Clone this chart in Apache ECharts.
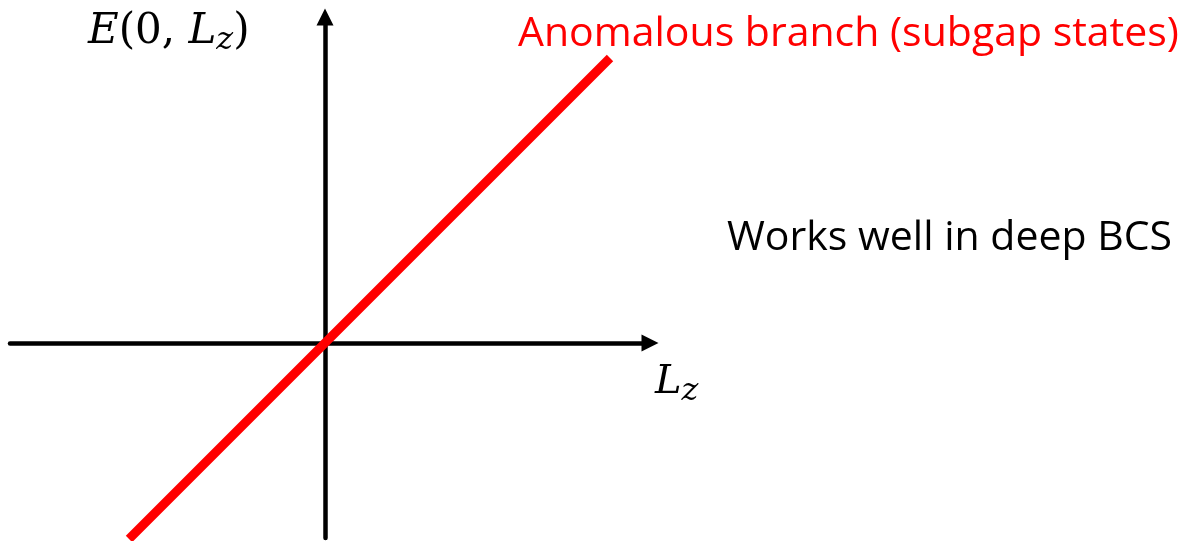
<!DOCTYPE html>
<html>
<head>
<meta charset="utf-8">
<script src="https://cdn.jsdelivr.net/npm/echarts@6/dist/echarts.min.js"></script>
<style>
  html, body { margin: 0; padding: 0; background: #fff; }
  #chart { width: 1191px; height: 541px; }
</style>
</head>
<body>
<div id="chart"></div>
<script>
// axes span (in the same units as the branch line)
var xRange = [-315, 325];
var yRange = [-195, 326];

// anomalous branch: straight line through the origin
var branchX = [-196, 285];
var branchY = [-196, 285];

var branchLabel = 'Anomalous branch (subgap states)';
var noteLabel = 'Works well in deep BCS';

var red = '#ff0000';
var mathFont = '"DejaVu Serif", "Liberation Serif", serif';
var textFont = '"Open Sans", "Noto Sans", sans-serif';

var branchData = [];
for (var i = 0; i < branchX.length; i++) {
    branchData.push([branchX[i], branchY[i]]);
}

var axisLine = {
    show: true,
    onZero: true,
    symbol: ['none', 'triangle'],
    symbolSize: [17, 17],
    lineStyle: { color: '#000', width: 4.5 }
};

var option = {
    animation: false,
    grid: {
        left: 10,
        top: 17,
        width: 640,
        height: 521
    },
    xAxis: {
        type: 'value',
        min: xRange[0],
        max: xRange[1],
        axisLine: axisLine,
        axisTick: { show: false },
        axisLabel: { show: false },
        splitLine: { show: false }
    },
    yAxis: {
        type: 'value',
        min: yRange[0],
        max: yRange[1],
        axisLine: axisLine,
        axisTick: { show: false },
        axisLabel: { show: false },
        splitLine: { show: false }
    },
    series: [
        {
            type: 'line',
            data: branchData,
            clip: false,
            showSymbol: false,
            lineStyle: { color: red, width: 9, cap: 'butt' },
            z: 5
        }
    ],
    graphic: [
        {
            type: 'text',
            left: 88,
            top: 11,
            style: {
                text: '{i|E}{n|(0, }{i|L}{s|z}{n|)}',
                rich: {
                    i: { fontFamily: mathFont, fontStyle: 'italic', fontSize: 42, fill: '#000' },
                    n: { fontFamily: mathFont, fontSize: 42, fill: '#000' },
                    s: { fontFamily: mathFont, fontStyle: 'italic', fontSize: 32, fill: '#000', padding: [18, 0, 0, 0] }
                }
            }
        },
        {
            type: 'text',
            left: 655,
            top: 363,
            style: {
                text: '{i|L}{s|z}',
                rich: {
                    i: { fontFamily: mathFont, fontStyle: 'italic', fontSize: 40, fill: '#000' },
                    s: { fontFamily: mathFont, fontStyle: 'italic', fontSize: 32, fill: '#000', padding: [18, 0, 0, 0] }
                }
            }
        },
        {
            type: 'text',
            x: 518,
            y: 34,
            style: {
                text: branchLabel,
                fontFamily: textFont,
                fontSize: 41,
                fill: red,
                verticalAlign: 'middle'
            }
        },
        {
            type: 'text',
            x: 727,
            y: 238,
            style: {
                text: noteLabel,
                fontFamily: textFont,
                fontSize: 41,
                fill: '#000',
                verticalAlign: 'middle'
            }
        }
    ]
};

var myChart = echarts.init(document.getElementById('chart'));
myChart.setOption(option);
</script>
</body>
</html>
